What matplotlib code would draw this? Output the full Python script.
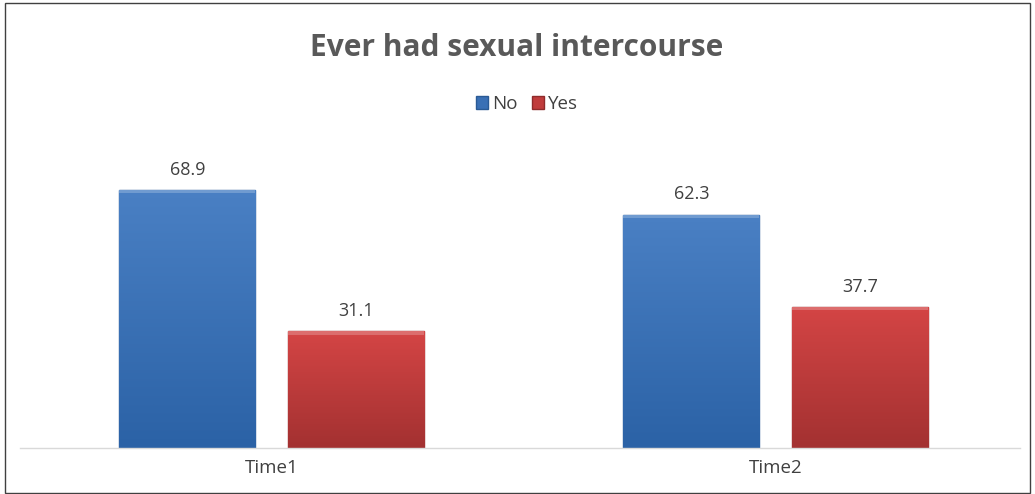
import matplotlib
matplotlib.use("Agg")
import matplotlib.pyplot as plt
import numpy as np
from matplotlib.patches import Rectangle
from matplotlib.colors import LinearSegmentedColormap

categories = ["Time1", "Time2"]
series_names = ["No", "Yes"]
no_values = [68.9, 62.3]
yes_values = [31.1, 37.7]
title = "Ever had sexual intercourse"

plt.rcParams['font.family'] = ['Open Sans', 'DejaVu Sans']

W, H = 1035, 494
fig = plt.figure(figsize=(W / 100, H / 100), dpi=100)
fig.patch.set_facecolor("white")

# axes in pixel layout
ax_left, ax_right = 20, 1020
ax_bottom, ax_top = 448, 140
ax = fig.add_axes([ax_left / W, 1 - ax_bottom / H, (ax_right - ax_left) / W, (ax_bottom - ax_top) / H])
XLIM = (-0.499, 1.485)
YLIM = (0, 82.2)

x = np.arange(len(categories))
width = 0.27
offset = 0.167

blue_cmap = LinearSegmentedColormap.from_list("b", ["#2b62a6", "#4a80c4"])
red_cmap = LinearSegmentedColormap.from_list("r", ["#a33131", "#d44545"])

def grad_bars(xs, vals, base, cmap, edge, label):
    bars = ax.bar(xs, vals, width, color=base, edgecolor=edge, linewidth=1.0, label=label, zorder=2)
    grad = np.linspace(0, 1, 256).reshape(-1, 1)
    for b in bars:
        x0, y0 = b.get_x(), b.get_y()
        w, h = b.get_width(), b.get_height()
        im = ax.imshow(grad, extent=[x0, x0 + w, y0, y0 + h], origin="lower", cmap=cmap,
                       aspect="auto", zorder=2.5, interpolation="bicubic")
        im.set_clip_path(b)
        ax.add_patch(Rectangle((x0, y0 + h - 0.9), w, 0.9, facecolor="white", alpha=0.22,
                               edgecolor="none", zorder=2.6))
    return bars

b1 = grad_bars(x - offset, no_values, "#3a70b5", blue_cmap, "#2a5a95", "No")
b2 = grad_bars(x + offset, yes_values, "#c03c3c", red_cmap, "#8f2b2b", "Yes")
ax.set_xlim(*XLIM)
ax.set_ylim(*YLIM)

for bars, vals in ((b1, no_values), (b2, yes_values)):
    for b, v in zip(bars, vals):
        ax.annotate(f"{v:.1f}", (b.get_x() + b.get_width() / 2, v), xytext=(0, 8),
                    textcoords="offset points", ha="center", va="bottom",
                    fontsize=13, color="#404040")

for s in ["top", "right", "left"]:
    ax.spines[s].set_visible(False)
ax.spines["bottom"].set_color("#d9d9d9")
ax.spines["bottom"].set_linewidth(1.0)
ax.set_yticks([])
ax.set_xticks(x)
ax.set_xticklabels(categories, fontsize=13.5, color="#404040")
ax.tick_params(axis="x", length=0, pad=8)

fig.text(517 / W, 1 - 48 / H, title, ha="center", va="center", fontsize=21.5,
         fontweight="bold", color="#595959")

leg = fig.legend(handles=[b1, b2], labels=series_names, loc="center",
                 bbox_to_anchor=(527 / W, 1 - 104 / H), ncol=2, frameon=False,
                 fontsize=13.5, handlelength=0.65, handleheight=0.65, handletextpad=0.2,
                 columnspacing=0.8)
for t in leg.get_texts():
    t.set_color("#404040")

fig.add_artist(Rectangle((4.5 / W, 1.5 / H), (1030 - 4.5) / W, (489.5) / H,
                         transform=fig.transFigure, fill=False, edgecolor="#404040",
                         linewidth=1.0))

fig.savefig("out.png", dpi=100, facecolor="white")
